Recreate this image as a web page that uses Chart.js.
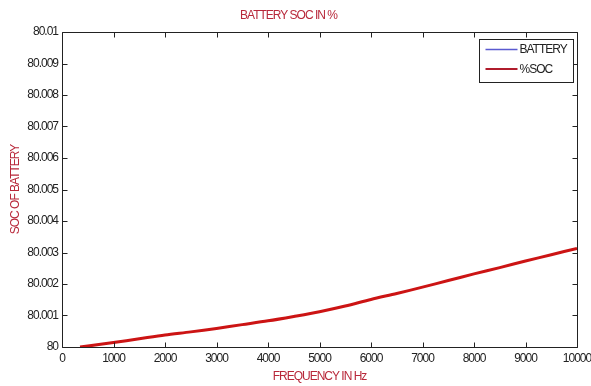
<!DOCTYPE html>
<html>
<head>
<meta charset="utf-8">
<script src="https://cdn.jsdelivr.net/npm/chart.js@4/dist/chart.umd.min.js"></script>
<style>
html,body{margin:0;padding:0;background:#fff;}
#wrap{width:591px;height:386px;position:relative;}
</style>
</head>
<body>
<div id="wrap"><canvas id="c" width="591" height="386"></canvas></div>
<script>
// ---- data ----
const frequencyHz = [350, 500, 1000, 1500, 2000, 2500, 3000, 3500, 4000, 4500, 5000,
                     5500, 6000, 6500, 7000, 7500, 8000, 8500, 9000, 9500, 10000];
const socPercent = [80.00000, 80.00003, 80.00014, 80.00026, 80.00038, 80.00048, 80.00059,
                    80.00071, 80.00083, 80.00097, 80.00112, 80.00130, 80.00151, 80.00170,
                    80.00190, 80.00211, 80.00232, 80.00252, 80.00273, 80.00293, 80.00313];
const batteryValues = [80.00000, 80.00003, 80.00014, 80.00026, 80.00038, 80.00048, 80.00059,
                       80.00071, 80.00083, 80.00097, 80.00112, 80.00130, 80.00151, 80.00170,
                       80.00190, 80.00211, 80.00232, 80.00252, 80.00273, 80.00293, 80.00313];
const xTickLabels = ['0','1000','2000','3000','4000','5000','6000','7000','8000','9000','10000'];
const yTickLabels = ['80','80.001','80.002','80.003','80.004','80.005','80.006','80.007','80.008','80.009','80.01'];
const seriesNames = ['BATTERY', '%SOC'];
const chartTitle = 'BATTERY SOC IN %';
const xTitle = 'FREQUENCY IN Hz';
const yTitle = 'SOC OF BATTERY';

const FONT = "'Liberation Sans', Arial, sans-serif";
const RED_TEXT = '#b8283a';
const SPACING = '-1px';

const toPoints = (xs, ys) => xs.map((x, i) => ({x: x, y: ys[i]}));

// tighter letter spacing to mimic the narrow MATLAB font
const spacingPlugin = {
  id: 'spacing',
  beforeUpdate(chart) { chart.ctx.letterSpacing = SPACING; },
  beforeLayout(chart) { chart.ctx.letterSpacing = SPACING; },
  beforeDraw(chart) { chart.ctx.letterSpacing = SPACING; }
};

// MATLAB-style box with inward ticks
const boxPlugin = {
  id: 'box',
  afterDatasetsDraw(chart) {
    const {ctx, chartArea: a, scales: {x, y}} = chart;
    ctx.save();
    ctx.strokeStyle = '#222';
    ctx.lineWidth = 1;
    ctx.beginPath();
    const L = Math.round(a.left) + 0.5, R = Math.round(a.right) + 0.5;
    const T = Math.round(a.top) + 0.5, B = Math.round(a.bottom) + 0.5;
    ctx.rect(L, T, R - L, B - T);
    const tl = 5;
    x.ticks.forEach(t => {
      const px = Math.round(x.getPixelForValue(t.value)) + 0.5;
      ctx.moveTo(px, B); ctx.lineTo(px, B - tl);
      ctx.moveTo(px, T); ctx.lineTo(px, T + tl);
    });
    y.ticks.forEach(t => {
      const py = Math.round(y.getPixelForValue(t.value)) + 0.5;
      ctx.moveTo(L, py); ctx.lineTo(L + tl, py);
      ctx.moveTo(R, py); ctx.lineTo(R - tl, py);
    });
    ctx.stroke();
    ctx.restore();
  }
};

// legend box inside the plot (top-right)
const legendPlugin = {
  id: 'boxLegend',
  afterDraw(chart) {
    const {ctx, chartArea: a} = chart;
    const w = 94, h = 43;
    const bx = Math.round(a.right) - 4 - w + 0.5, by = Math.round(a.top) + 7 + 0.5;
    ctx.save();
    ctx.letterSpacing = SPACING;
    ctx.fillStyle = '#fff';
    ctx.fillRect(bx, by, w, h);
    ctx.strokeStyle = '#222';
    ctx.lineWidth = 1;
    ctx.strokeRect(bx, by, w, h);
    ctx.font = "12px " + FONT;
    ctx.textBaseline = 'middle';
    chart.data.datasets.forEach((ds, i) => {
      const ly = Math.round(by + 9 + i * 20) + (ds.legendWidth < 1.5 ? 0.5 : 0);
      ctx.strokeStyle = ds.legendColor;
      ctx.lineWidth = ds.legendWidth;
      ctx.beginPath();
      ctx.moveTo(bx + 6, ly); ctx.lineTo(bx + 38, ly);
      ctx.stroke();
      ctx.fillStyle = '#222';
      ctx.fillText(ds.label, bx + 40, ly + 0.5);
    });
    ctx.restore();
  }
};

new Chart(document.getElementById('c'), {
  type: 'line',
  data: {
    datasets: [
      {label: seriesNames[0], data: toPoints(frequencyHz, batteryValues), borderColor: '#4848c0',
       legendColor: '#5a5ad0', legendWidth: 1.4, borderWidth: 1, pointRadius: 0, tension: 0.3, order: 2},
      {label: seriesNames[1], data: toPoints(frequencyHz, socPercent), borderColor: '#cc1414',
       legendColor: '#b01c2c', legendWidth: 2, borderWidth: 3, pointRadius: 0, tension: 0.3, order: 1}
    ]
  },
  options: {
    responsive: false,
    animation: false,
    devicePixelRatio: 1,
    layout: {padding: {left: 0, right: 14, top: 0, bottom: 0}},
    plugins: {
      legend: {display: false},
      tooltip: {enabled: false},
      title: {display: true, text: chartTitle, color: RED_TEXT,
              font: {family: FONT, size: 12, weight: 'normal', lineHeight: 1.2},
              padding: {top: 8.3, bottom: 9.3}}
    },
    scales: {
      x: {
        type: 'linear', min: 0, max: 10000,
        grid: {display: false, drawTicks: false}, border: {display: false},
        ticks: {stepSize: 1000, padding: 4, color: '#222', maxRotation: 0, autoSkip: false,
                font: {family: FONT, size: 12},
                callback: (v, i) => xTickLabels[i]},
        title: {display: true, text: xTitle, color: RED_TEXT,
                font: {family: FONT, size: 12, lineHeight: 1.2}, padding: {top: 0, bottom: 1.8}},
        afterFit: s => { s.height = 39; s.paddingRight = 0; s.paddingLeft = 0; }
      },
      y: {
        type: 'linear', min: 80, max: 80.01,
        grid: {display: false, drawTicks: false}, border: {display: false},
        ticks: {stepSize: 0.001, padding: 4, color: '#222', autoSkip: false,
                font: {family: FONT, size: 12},
                callback: (v, i) => yTickLabels[i]},
        title: {display: true, text: yTitle, color: RED_TEXT,
                font: {family: FONT, size: 12, lineHeight: 1.2}, padding: {top: 8.8, bottom: 0}},
        afterFit: s => { s.width = 62; s.paddingTop = 0; s.paddingBottom = 0; }
      }
    }
  },
  plugins: [spacingPlugin, boxPlugin, legendPlugin]
});
</script>
</body>
</html>
